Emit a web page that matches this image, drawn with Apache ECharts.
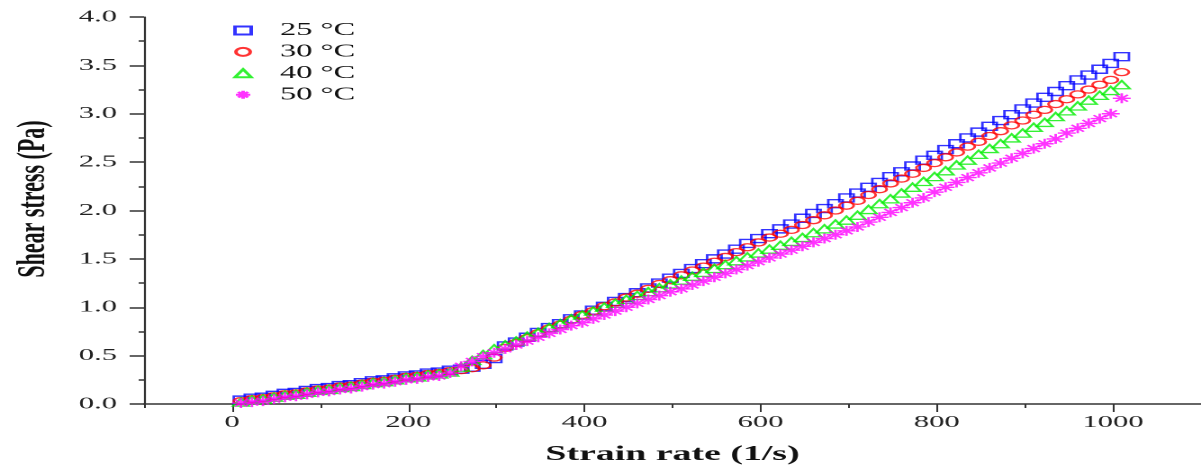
<!DOCTYPE html>
<html>
<head>
    <meta charset="utf-8">
    <title>Shear stress vs strain rate</title>
    <script src="https://cdn.jsdelivr.net/npm/echarts@6/dist/echarts.min.js"></script>
    <style>
        html, body { margin: 0; padding: 0; overflow: hidden; background: #fff; }
    </style>
</head>
<body>
    <!-- chart is drawn narrow and stretched sideways, like the original figure -->
    <div id="main" style="width:667px;height:470px;transform:scaleX(1.8006);transform-origin:0 0;"></div>
    <script type="text/javascript">
        // strain rate (1/s)
        var strainRate = [10, 22.5, 35, 47.5, 60, 72.5, 85, 97.5, 110, 122.5, 135, 147.5, 160, 172.5, 185, 197.5,
            210, 222.5, 235, 247.5, 260, 272.5, 285, 297.5, 310, 322.5, 335, 347.5, 360, 372.5, 385, 397.5,
            410, 422.5, 435, 447.5, 460, 472.5, 485, 497.5, 510, 522.5, 535, 547.5, 560, 572.5, 585, 597.5,
            610, 622.5, 635, 647.5, 660, 672.5, 685, 697.5, 710, 722.5, 735, 747.5, 760, 772.5, 785, 797.5,
            810, 822.5, 835, 847.5, 860, 872.5, 885, 897.5, 910, 922.5, 935, 947.5, 960, 972.5, 985, 997.5, 1010];

        // shear stress (Pa)
        var stress25 = [0.04, 0.06, 0.07, 0.09, 0.11, 0.12, 0.14, 0.16, 0.17, 0.19, 0.20, 0.22, 0.24, 0.25, 0.27, 0.29,
            0.30, 0.32, 0.33, 0.35, 0.36, 0.38, 0.41, 0.47, 0.60, 0.64, 0.69, 0.74, 0.79, 0.83, 0.88, 0.92,
            0.97, 1.01, 1.06, 1.10, 1.15, 1.20, 1.25, 1.30, 1.35, 1.40, 1.45, 1.50, 1.55, 1.60, 1.66, 1.71,
            1.76, 1.81, 1.86, 1.92, 1.97, 2.02, 2.07, 2.13, 2.18, 2.24, 2.29, 2.35, 2.40, 2.46, 2.52, 2.57,
            2.63, 2.69, 2.75, 2.81, 2.87, 2.93, 2.99, 3.05, 3.11, 3.17, 3.23, 3.29, 3.35, 3.40, 3.46, 3.52, 3.59];
        var stress30 = [0.03, 0.05, 0.06, 0.08, 0.10, 0.11, 0.13, 0.15, 0.16, 0.18, 0.19, 0.21, 0.23, 0.24, 0.26, 0.28,
            0.29, 0.31, 0.32, 0.34, 0.35, 0.37, 0.40, 0.48, 0.58, 0.63, 0.68, 0.73, 0.78, 0.82, 0.87, 0.92,
            0.96, 1.01, 1.05, 1.10, 1.14, 1.19, 1.24, 1.28, 1.33, 1.38, 1.42, 1.47, 1.52, 1.57, 1.62, 1.67,
            1.72, 1.76, 1.80, 1.85, 1.90, 1.95, 2.00, 2.05, 2.10, 2.16, 2.22, 2.28, 2.33, 2.38, 2.44, 2.49,
            2.55, 2.60, 2.66, 2.71, 2.77, 2.82, 2.88, 2.93, 2.99, 3.04, 3.10, 3.15, 3.20, 3.25, 3.30, 3.35, 3.43];
        var stress40 = [0.02, 0.04, 0.05, 0.07, 0.09, 0.10, 0.12, 0.14, 0.15, 0.17, 0.18, 0.20, 0.22, 0.23, 0.25, 0.27,
            0.28, 0.30, 0.31, 0.33, 0.38, 0.45, 0.51, 0.57, 0.61, 0.65, 0.70, 0.74, 0.79, 0.83, 0.88, 0.92,
            0.96, 1.00, 1.04, 1.08, 1.12, 1.16, 1.20, 1.24, 1.28, 1.32, 1.36, 1.40, 1.44, 1.48, 1.52, 1.56,
            1.60, 1.64, 1.68, 1.72, 1.77, 1.81, 1.86, 1.90, 1.95, 2.01, 2.07, 2.12, 2.18, 2.24, 2.30, 2.35,
            2.41, 2.47, 2.52, 2.58, 2.64, 2.69, 2.75, 2.80, 2.86, 2.91, 2.97, 3.03, 3.08, 3.14, 3.19, 3.24, 3.30];
        var stress50 = [0.01, 0.02, 0.03, 0.05, 0.07, 0.08, 0.10, 0.12, 0.13, 0.15, 0.16, 0.18, 0.20, 0.21, 0.23, 0.25,
            0.26, 0.28, 0.29, 0.32, 0.39, 0.44, 0.49, 0.53, 0.57, 0.61, 0.65, 0.69, 0.73, 0.77, 0.81, 0.84,
            0.88, 0.92, 0.96, 1.00, 1.04, 1.08, 1.12, 1.16, 1.19, 1.23, 1.27, 1.31, 1.35, 1.39, 1.43, 1.47,
            1.51, 1.55, 1.59, 1.63, 1.67, 1.71, 1.75, 1.79, 1.83, 1.88, 1.93, 1.98, 2.03, 2.08, 2.13, 2.19,
            2.24, 2.29, 2.34, 2.39, 2.44, 2.49, 2.54, 2.59, 2.64, 2.69, 2.74, 2.80, 2.85, 2.90, 2.95, 3.00, 3.16];

        var seriesNames = ['25 °C', '30 °C', '40 °C', '50 °C'];
        var seriesColors = ['#0000ff', '#ff0000', '#00ee00', '#ff00ff'];
        var xMajorTicks = [0, 200, 400, 600, 800, 1000];
        var xMinorTicks = [-100, 100, 300, 500, 700, 900, 1100];

        var asterisk = 'path://M5,0L5,10M0,5L10,5M1.6,1.6L8.4,8.4M8.4,1.6L1.6,8.4';
        var symbols = ['rect', 'circle', 'triangle', asterisk];
        var sizes = [[8, 8], [8, 7], [9, 8], [10, 10]];
        var allStress = [stress25, stress30, stress40, stress50];

        var fontFamily = '"Liberation Serif", "Times New Roman", serif';

        var myChart = echarts.init(document.getElementById('main'), null, { devicePixelRatio: 2 });

        var series = allStress.map(function (ys, k) {
            return {
                name: seriesNames[k],
                type: 'scatter',
                symbol: symbols[k],
                symbolSize: sizes[k],
                data: strainRate.map(function (x, i) { return [x, ys[i]]; }),
                itemStyle: {
                    color: 'rgba(255,255,255,0)',
                    borderColor: seriesColors[k],
                    borderWidth: 1.4
                },
                emphasis: { disabled: true }
            };
        });

        myChart.setOption({
            animation: false,
            legend: {
                orient: 'vertical',
                left: 124.5,
                top: 16.5,
                itemWidth: 9,
                itemHeight: 8,
                itemGap: 3.4,
                textStyle: {
                    fontFamily: fontFamily,
                    fontSize: 18,
                    lineHeight: 18,
                    color: '#111',
                    padding: [0, 0, 0, 11]
                },
                data: seriesNames
            },
            grid: { left: 77, right: 0, top: 17, bottom: 63 },
            xAxis: [{
                type: 'value',
                min: -100,
                max: 1100,
                name: 'Strain rate (1/s)',
                nameLocation: 'middle',
                nameGap: 40,
                nameTextStyle: { fontFamily: fontFamily, fontSize: 21, fontWeight: 'bold', color: '#111' },
                axisLine: { show: true, onZero: false, lineStyle: { color: '#333', width: 1.6 } },
                axisTick: { show: true, customValues: xMajorTicks, length: 8, lineStyle: { color: '#333', width: 1 } },
                axisLabel: {
                    customValues: xMajorTicks,
                    margin: 10,
                    fontFamily: fontFamily,
                    fontSize: 17,
                    color: '#222',
                    formatter: function (v) { return String(v); }
                },
                splitLine: { show: false }
            }, {
                type: 'value',
                min: -100,
                max: 1100,
                position: 'bottom',
                axisLine: { show: false, onZero: false },
                axisTick: { show: true, customValues: xMinorTicks, length: 4, lineStyle: { color: '#333', width: 1 } },
                axisLabel: { show: false },
                splitLine: { show: false }
            }],
            yAxis: {
                type: 'value',
                min: 0,
                max: 4,
                interval: 0.5,
                name: 'Shear stress (Pa)',
                nameLocation: 'middle',
                nameRotate: 90,
                nameGap: 50,
                nameTextStyle: {
                    fontFamily: fontFamily,
                    fontSize: 22,
                    fontWeight: 'bold',
                    color: '#111',
                    padding: [0, 0, 0, 23]
                },
                axisLine: { show: true, onZero: false, lineStyle: { color: '#333', width: 1.1 } },
                axisTick: { show: true, length: 8, lineStyle: { color: '#333', width: 1.5 } },
                minorTick: { show: true, splitNumber: 2, length: 3, lineStyle: { color: '#333', width: 1.5 } },
                axisLabel: {
                    margin: 15,
                    fontFamily: fontFamily,
                    fontSize: 17,
                    color: '#222',
                    formatter: function (v) { return v.toFixed(1); }
                },
                splitLine: { show: false }
            },
            series: series
        });
    </script>
</body>
</html>
